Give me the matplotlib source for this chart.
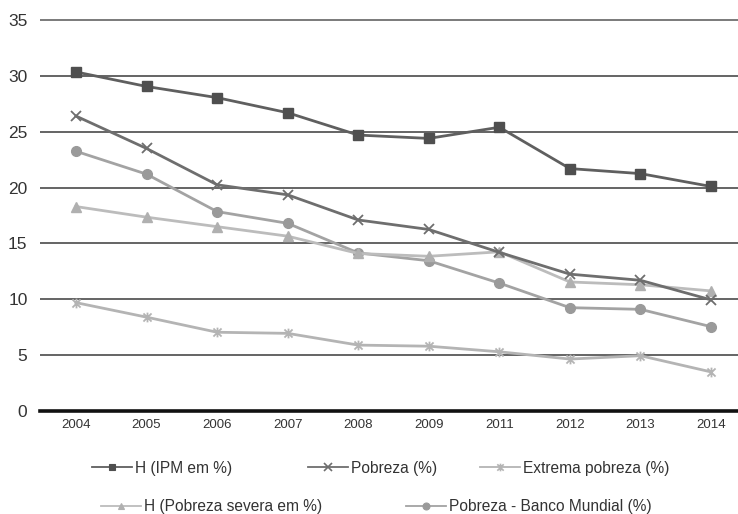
import matplotlib
matplotlib.use("Agg")
import matplotlib.pyplot as plt
from matplotlib.lines import Line2D
from matplotlib.path import Path

years = ["2004", "2005", "2006", "2007", "2008", "2009", "2011", "2012", "2013", "2014"]
h_ipm = [30.35, 29.05, 28.05, 26.7, 24.7, 24.4, 25.4, 21.7, 21.25, 20.1]
pobreza = [26.4, 23.5, 20.25, 19.35, 17.1, 16.25, 14.2, 12.25, 11.7, 9.95]
extrema = [9.7, 8.4, 7.05, 6.95, 5.9, 5.8, 5.3, 4.65, 4.95, 3.5]
h_severa = [18.3, 17.35, 16.5, 15.65, 14.1, 13.85, 14.25, 11.55, 11.3, 10.75]
banco_mundial = [23.25, 21.2, 17.85, 16.8, 14.15, 13.45, 11.45, 9.25, 9.1, 7.55]

# star marker: an "x" crossed by a vertical bar
star = Path([(-1, -1), (1, 1), (-1, 1), (1, -1), (0, -1.2), (0, 1.2)],
            [Path.MOVETO, Path.LINETO, Path.MOVETO, Path.LINETO, Path.MOVETO, Path.LINETO])

series = [
    ("H (IPM em %)", h_ipm, "#5f5f5f", "s", 6.5, "#4f4f4f"),
    ("Pobreza (%)", pobreza, "#6e6e6e", "x", 7, "#6e6e6e"),
    ("Extrema pobreza (%)", extrema, "#b4b4b4", star, 7, "#b4b4b4"),
    ("H (Pobreza severa em %)", h_severa, "#bcbcbc", "^", 7, "#b0b0b0"),
    ("Pobreza - Banco Mundial (%)", banco_mundial, "#a3a3a3", "o", 7, "#9a9a9a"),
]

plt.rcParams["font.family"] = ["Liberation Sans", "DejaVu Sans"]

W, H = 738, 514
fig = plt.figure(figsize=(W / 100, H / 100), dpi=100)
px_per_unit = (411 - 20) / 35.0
top_px = 20 - 0.6 * px_per_unit
ax = fig.add_axes([40 / W, 1 - 411 / H, 1 - 40 / W, (411 - top_px) / H])

x = list(range(len(years)))
order = [4, 3, 2, 1, 0]
handles = {}
for i in order:
    label, vals, col, mk, ms, mcol = series[i]
    thin = (mk == "x") or isinstance(mk, Path)
    ax.plot(x, vals, color=col, lw=2.0, marker=mk, markersize=ms,
            markerfacecolor=mcol, markeredgecolor=mcol,
            markeredgewidth=1.3 if thin else 1.0,
            zorder=3 + (5 - i), label=label)
    handles[label] = Line2D([], [], color=col, lw=1.3, marker=mk,
                            markersize=5.5 if thin else 5,
                            markerfacecolor=mcol, markeredgecolor=mcol,
                            markeredgewidth=1.2 if thin else 0.8)

# horizontal gridlines
for yv in [5, 10, 15, 20, 25, 30]:
    ax.axhline(yv, color="#3a3a3a", lw=1.1, zorder=1)
ax.axhline(35, color="#7a7a7a", lw=1.4, zorder=1)

step = 70.55
ax.set_xlim(-(76 - 40) / step, 9 + (738 - 711) / step)
ax.set_ylim(0, 35.6)
ax.set_xticks(x)
ax.set_xticklabels(years, fontsize=9.5, color="#333333")
ax.set_yticks([0, 5, 10, 15, 20, 25, 30, 35])
ax.set_yticklabels(["0", "5", "10", "15", "20", "25", "30", "35"], fontsize=12.5, color="#333333")
ax.tick_params(axis="x", length=0, pad=6)
ax.tick_params(axis="y", length=0, pad=9)
for s in ["top", "right", "left"]:
    ax.spines[s].set_visible(False)
ax.spines["bottom"].set_color("#111111")
ax.spines["bottom"].set_linewidth(2.6)
ax.set_facecolor("white")
fig.patch.set_facecolor("white")

# legend entries laid out in two rows
legend_pos = [
    ("H (IPM em %)", 92, 468),
    ("Pobreza (%)", 308, 468),
    ("Extrema pobreza (%)", 480, 468),
    ("H (Pobreza severa em %)", 101, 507),
    ("Pobreza - Banco Mundial (%)", 406, 507),
]
for label, px, py in legend_pos:
    fig.legend(handles=[handles[label]], labels=[label],
               loc="center left", bbox_to_anchor=(px / W, 1 - py / H),
               frameon=False, fontsize=11.2, handlelength=2.55,
               handletextpad=0.2, borderpad=0, borderaxespad=0,
               labelcolor="#333333")

fig.savefig("out.png", dpi=100, facecolor="white")
